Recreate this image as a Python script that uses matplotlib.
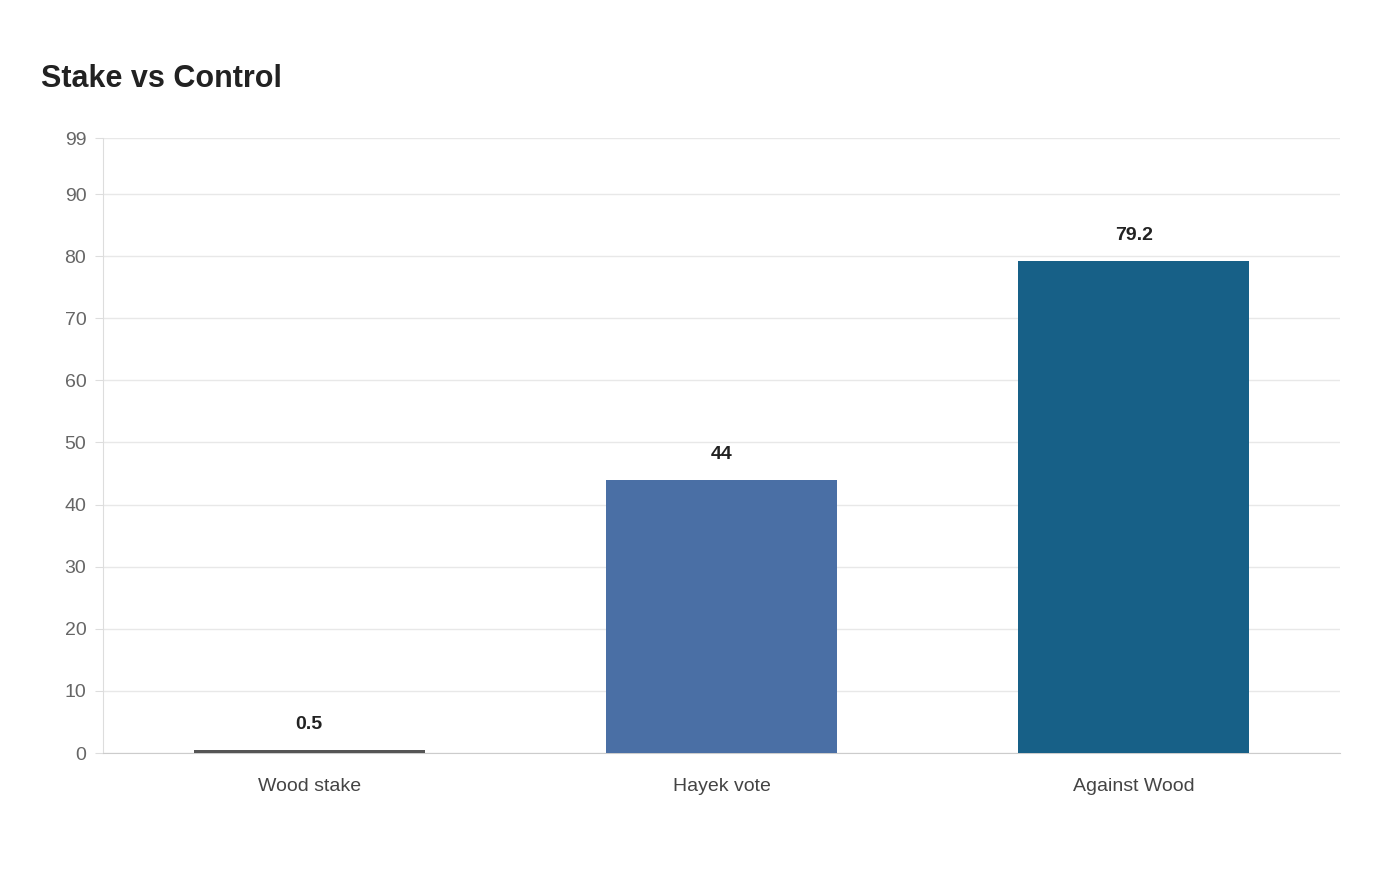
import matplotlib
matplotlib.use("Agg")
import matplotlib.pyplot as plt

plt.rcParams["font.family"] = ["Liberation Sans", "DejaVu Sans"]

categories = ["Wood stake", "Hayek vote", "Against Wood"]
values = [0.5, 44, 79.2]
labels = ["0.5", "44", "79.2"]
colors = ["#555555", "#4a6fa5", "#176087"]
yticks = [0, 10, 20, 30, 40, 50, 60, 70, 80, 90, 99]

fig = plt.figure(figsize=(14, 8.8), dpi=100)
ax = fig.add_axes([0.0736, 0.1443, 0.8836, 0.6987])

x = range(len(categories))
ax.bar(x, values, width=0.56, color=colors, zorder=3)
for xi, v, lab in zip(x, values, labels):
    ax.annotate(lab, (xi, v), xytext=(0, 12), textcoords="offset points",
                ha="center", va="bottom", fontsize=14, fontweight="bold", color="#222222")

ax.set_xlim(-0.5, 2.5)
ax.set_ylim(0, 99)
ax.set_yticks(yticks)
ax.set_xticks(list(x))
ax.set_xticklabels(categories)
ax.grid(axis="y", color="#e8e8e8", lw=1, zorder=0)
ax.tick_params(axis="y", length=6, color="#dddddd", labelcolor="#666666", labelsize=14, pad=6)
ax.tick_params(axis="x", length=0, labelcolor="#444444", labelsize=14, pad=18)
for s in ["top", "right"]:
    ax.spines[s].set_visible(False)
ax.spines["left"].set_color("#dddddd")
ax.spines["bottom"].set_color("#cccccc")

fig.text(0.029, 0.91, "Stake vs Control", fontsize=22, fontweight="bold",
         color="#222222", ha="left", va="center")

fig.savefig("out.png", dpi=100, facecolor="white")
